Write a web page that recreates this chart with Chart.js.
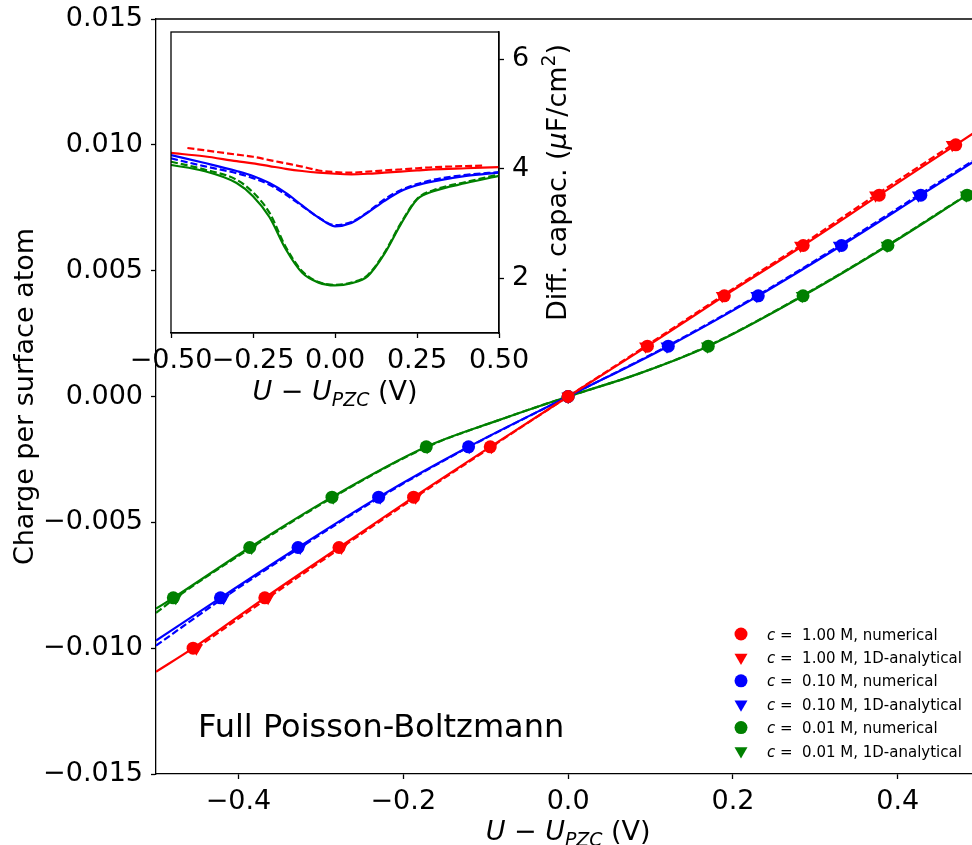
<!DOCTYPE html>
<html>
<head>
<meta charset="utf-8">
<script src="https://cdn.jsdelivr.net/npm/chart.js@4.4.0/dist/chart.umd.min.js"></script>
<style>
  html, body { margin: 0; padding: 0; background: #fff; overflow: hidden; }
  #wrap { position: relative; width: 972px; height: 845px; }
  #mainChart { position: absolute; left: 0; top: 0; }
  #insetChart { position: absolute; left: 100px; top: 20px; }
</style>
</head>
<body>
<div id="wrap">
  <canvas id="mainChart" width="972" height="845"></canvas>
  <canvas id="insetChart" width="480" height="400"></canvas>
</div>
<script>
// ---- main panel: charge per surface atom vs U - U_PZC ----
const mainXTicks = [-0.4, -0.2, 0.0, 0.2, 0.4];
const mainYTicks = [-0.015, -0.010, -0.005, 0.0, 0.005, 0.010, 0.015];

// charges at which the markers sit
const redCharge = [-0.010, -0.008, -0.006, -0.004, -0.002, 0, 0.002, 0.004, 0.006, 0.008, 0.010];
const lowCharge = [-0.008, -0.006, -0.004, -0.002, 0, 0.002, 0.004, 0.006, 0.008];

// potentials of the markers
const redNumX = [-0.455, -0.368, -0.278, -0.1875, -0.0945, 0, 0.0962, 0.1895, 0.2852, 0.3774, 0.4703];
const redAnaX = [-0.451, -0.364, -0.275, -0.185, -0.093, 0, 0.094, 0.187, 0.282, 0.373, 0.466];
const blueNumX = [-0.4218, -0.3277, -0.2299, -0.1208, 0, 0.1215, 0.2307, 0.3317, 0.4279];
const blueAnaX = [-0.418, -0.325, -0.228, -0.120, 0, 0.120, 0.229, 0.329, 0.425];
const greenNumX = [-0.479, -0.3863, -0.2865, -0.1721, 0, 0.170, 0.285, 0.388, 0.484];
const greenAnaX = [-0.476, -0.384, -0.285, -0.171, 0, 0.169, 0.284, 0.387, 0.483];

// curves (solid = numerical, dashed = 1D-analytical)
const redLineX = [-0.5, -0.455, -0.368, -0.278, -0.1875, -0.0945, 0, 0.0962, 0.1895, 0.2852, 0.3774, 0.4703, 0.5];
const redLineY = [-0.01094, -0.010, -0.008, -0.006, -0.004, -0.002, 0, 0.002, 0.004, 0.006, 0.008, 0.010, 0.01064];
const redDashX = [-0.451, -0.364, -0.275, -0.185, -0.093, 0, 0.094, 0.187, 0.282, 0.373, 0.466];
const redDashY = [-0.010, -0.008, -0.006, -0.004, -0.002, 0, 0.002, 0.004, 0.006, 0.008, 0.010];
const blueLineX = [-0.5, -0.4218, -0.3277, -0.2299, -0.1208, 0, 0.1215, 0.2307, 0.3317, 0.4279, 0.5];
const blueLineY = [-0.0097, -0.008, -0.006, -0.004, -0.002, 0, 0.002, 0.004, 0.006, 0.008, 0.0095];
const blueDashX = [-0.5, -0.418, -0.325, -0.228, -0.120, 0, 0.120, 0.229, 0.329, 0.425, 0.5];
const blueDashY = [-0.0099, -0.008, -0.006, -0.004, -0.002, 0, 0.002, 0.004, 0.006, 0.008, 0.00955];
const greenLineX = [-0.5, -0.479, -0.3863, -0.2865, -0.1721, -0.085, 0, 0.085, 0.170, 0.285, 0.388, 0.484, 0.5];
const greenLineY = [-0.00843, -0.008, -0.006, -0.004, -0.002, -0.00095, 0, 0.0009, 0.002, 0.004, 0.006, 0.008, 0.00833];
const greenDashX = [-0.5, -0.476, -0.384, -0.285, -0.171, -0.085, 0, 0.085, 0.169, 0.284, 0.387, 0.483, 0.5];
const greenDashY = [-0.0086, -0.008, -0.006, -0.004, -0.002, -0.00095, 0, 0.0009, 0.002, 0.004, 0.006, 0.008, 0.00835];

// ---- inset: differential capacitance ----
const insetXTicks = [-0.5, -0.25, 0.0, 0.25, 0.5];
const insetYTicks = [2, 4, 6];
const capX = [-0.5, -0.4, -0.3, -0.25, -0.2, -0.15, -0.1, -0.05, 0, 0.05, 0.1, 0.15, 0.2, 0.25, 0.3, 0.4, 0.5];
const redCapNum = [4.29, 4.23, 4.14, 4.10, 4.05, 4.00, 3.96, 3.93, 3.91, 3.90, 3.91, 3.93, 3.95, 3.97, 3.99, 4.01, 4.03];
const blueCapNum = [4.25, 4.11, 3.96, 3.87, 3.74, 3.56, 3.33, 3.11, 2.95, 3.01, 3.20, 3.41, 3.59, 3.70, 3.77, 3.87, 3.93];
const greenCapNum = [4.07, 3.96, 3.74, 3.50, 3.12, 2.53, 2.10, 1.92, 1.87, 1.91, 2.04, 2.44, 2.98, 3.44, 3.59, 3.74, 3.87];
const redCapAnaX = [-0.45, -0.4, -0.3, -0.25, -0.2, -0.15, -0.1, -0.05, 0, 0.05, 0.1, 0.15, 0.2, 0.25, 0.3, 0.4, 0.45];
const redCapAna = [4.38, 4.34, 4.26, 4.22, 4.16, 4.10, 4.04, 3.97, 3.94, 3.93, 3.95, 3.97, 3.99, 4.01, 4.03, 4.05, 4.06];
const blueCapAna = [4.19, 4.05, 3.92, 3.83, 3.71, 3.53, 3.32, 3.11, 2.97, 3.03, 3.21, 3.44, 3.61, 3.72, 3.80, 3.89, 3.94];
const greenCapAna = [4.13, 3.99, 3.80, 3.57, 3.20, 2.57, 2.13, 1.93, 1.88, 1.92, 2.06, 2.46, 3.00, 3.45, 3.61, 3.76, 3.90];

const legendLabels = [
  ["1.00 M, numerical", "red", "circle"],
  ["1.00 M, 1D-analytical", "red", "triangle"],
  ["0.10 M, numerical", "blue", "circle"],
  ["0.10 M, 1D-analytical", "blue", "triangle"],
  ["0.01 M, numerical", "green", "circle"],
  ["0.01 M, 1D-analytical", "green", "triangle"],
];

const RED = "#ff0000", BLUE = "#0000ff", GREEN = "#008000";
const FONT = "'DejaVu Sans', sans-serif";
const TICK_SIZE = 27;
const colorOf = { red: RED, blue: BLUE, green: GREEN };

function fmt(v, d) {
  return v.toFixed(d).replace("-", "\u2212");
}

function pts(xs, ys) {
  return xs.map((x, i) => ({ x: x, y: ys[i] }));
}

function lineSet(xs, ys, color, dashed) {
  return {
    data: pts(xs, ys),
    showLine: true,
    borderColor: color,
    borderWidth: 2.2,
    borderDash: dashed ? [7, 3] : [],
    pointRadius: 0,
    cubicInterpolationMode: "monotone",
    fill: false,
  };
}

function markerSet(xs, ys, color, tri) {
  return {
    data: pts(xs, ys),
    showLine: false,
    pointStyle: tri ? "triangle" : "circle",
    pointRotation: tri ? 180 : 0,
    pointRadius: tri ? 7.5 : 6.5,
    pointBackgroundColor: color,
    pointBorderColor: color,
    pointBorderWidth: 0,
  };
}

// draws runs of text centred on x: [text, style] with style "", "i", "isub" or "sup"
function drawRuns(ctx, runs, x, y, size) {
  const fontOf = (r) => {
    const small = r[1] === "isub" || r[1] === "sup";
    const it = r[1] === "i" || r[1] === "isub";
    return (it ? "italic " : "") + (small ? size * 0.7 : size) + "px " + FONT;
  };
  const widths = runs.map((r) => {
    ctx.font = fontOf(r);
    return ctx.measureText(r[0]).width;
  });
  let cx = x - widths.reduce((a, b) => a + b, 0) / 2;
  runs.forEach((r, i) => {
    ctx.font = fontOf(r);
    let dy = 0;
    if (r[1] === "isub") dy = size * 0.24;
    if (r[1] === "sup") dy = -size * 0.4;
    ctx.fillText(r[0], cx, y + dy);
    cx += widths[i];
  });
}

const uLabel = [["U", "i"], [" \u2212 ", ""], ["U", "i"], ["PZC", "isub"], [" (V)", ""]];
const capLabel = [["Diff. capac. (", ""], ["\u03bc", "i"], ["F/cm", ""], ["2", "sup"], [")", ""]];

function linearAxis(min, max, ticks, digits, size, pos, pad) {
  return {
    type: "linear",
    position: pos,
    min: min,
    max: max,
    afterBuildTicks: (s) => {
      s.ticks = ticks.map((v) => ({ value: v }));
    },
    grid: {
      display: true,
      drawOnChartArea: false,
      drawTicks: true,
      tickLength: 5,
      tickWidth: 1.3,
      tickColor: "#000",
    },
    border: { display: true, color: "#000", width: 1.3 },
    ticks: {
      color: "#000",
      font: { family: FONT, size: TICK_SIZE, lineHeight: 1.0 },
      padding: pad,
      maxRotation: 0,
      autoSkip: false,
      callback: (v) => fmt(v, digits),
    },
    afterFit: (s) => {
      if (pos === "bottom") s.height = size;
      else s.width = size;
      s.paddingTop = 0;
      s.paddingBottom = 0;
      s.paddingLeft = 0;
      s.paddingRight = 0;
    },
  };
}

// main chart
const mainDecor = {
  id: "mainDecor",
  afterDraw(chart) {
    const ctx = chart.ctx;
    const a = chart.chartArea;
    ctx.save();
    ctx.strokeStyle = "#000";
    ctx.lineWidth = 1.3;
    ctx.beginPath();
    ctx.moveTo(a.left, a.top);
    ctx.lineTo(a.right, a.top);
    ctx.stroke();

    ctx.fillStyle = "#000";
    ctx.textBaseline = "alphabetic";
    // x title
    drawRuns(ctx, uLabel, chart.scales.x.getPixelForValue(0), 840, 27);
    // y title
    ctx.save();
    ctx.translate(33, (a.top + a.bottom) / 2);
    ctx.rotate(-Math.PI / 2);
    ctx.textAlign = "center";
    ctx.font = "27px " + FONT;
    ctx.fillText("Charge per surface atom", 0, 0);
    ctx.restore();
    // annotation
    ctx.font = "32px " + FONT;
    ctx.textAlign = "left";
    ctx.fillText("Full Poisson-Boltzmann", 198, 737);
    // legend
    legendLabels.forEach((lab, i) => {
      const y = 634 + i * 23.4;
      const tri = lab[2] === "triangle";
      ctx.fillStyle = colorOf[lab[1]];
      Chart.helpers.drawPoint(ctx, {
        pointStyle: lab[2],
        radius: tri ? 7.5 : 6.5,
        rotation: tri ? 180 : 0,
        borderWidth: 0,
      }, 741, y);
      ctx.fillStyle = "#000";
      ctx.font = "italic 15px " + FONT;
      ctx.fillText("c", 767, y + 5.5);
      const w = ctx.measureText("c").width;
      ctx.font = "15px " + FONT;
      ctx.fillText(" =  " + lab[0], 767 + w, y + 5.5);
    });
    ctx.restore();
  },
};

new Chart(document.getElementById("mainChart"), {
  type: "scatter",
  data: {
    datasets: [
      markerSet(redAnaX, redCharge, RED, true),
      markerSet(redNumX, redCharge, RED, false),
      markerSet(blueAnaX, lowCharge, BLUE, true),
      markerSet(blueNumX, lowCharge, BLUE, false),
      markerSet(greenAnaX, lowCharge, GREEN, true),
      markerSet(greenNumX, lowCharge, GREEN, false),
      lineSet(redDashX, redDashY, RED, true),
      lineSet(redLineX, redLineY, RED, false),
      lineSet(blueDashX, blueDashY, BLUE, true),
      lineSet(blueLineX, blueLineY, BLUE, false),
      lineSet(greenDashX, greenDashY, GREEN, true),
      lineSet(greenLineX, greenLineY, GREEN, false),
    ],
  },
  options: {
    responsive: false,
    animation: false,
    layout: { autoPadding: false, padding: { left: 0, top: 19, right: 0, bottom: 0 } },
    plugins: { legend: { display: false }, tooltip: { enabled: false } },
    scales: {
      x: linearAxis(-0.5, 0.49, mainXTicks, 1, 71, "bottom", 9),
      y: linearAxis(-0.015, 0.015, mainYTicks, 3, 156, "left", 8),
    },
  },
  plugins: [mainDecor],
});

// inset chart
const insetDecor = {
  id: "insetDecor",
  beforeDraw(chart) {
    const ctx = chart.ctx;
    const a = chart.chartArea;
    ctx.save();
    ctx.fillStyle = "#fff";
    ctx.fillRect(a.left, a.top, a.right - a.left, a.bottom - a.top);
    ctx.restore();
  },
  afterDraw(chart) {
    const ctx = chart.ctx;
    const a = chart.chartArea;
    ctx.save();
    ctx.strokeStyle = "#000";
    ctx.lineWidth = 1.3;
    ctx.strokeRect(a.left, a.top, a.right - a.left, a.bottom - a.top);
    ctx.fillStyle = "#000";
    ctx.textBaseline = "alphabetic";
    drawRuns(ctx, uLabel, (a.left + a.right) / 2, 380, 27);
    ctx.translate(466, (a.top + a.bottom) / 2);
    ctx.rotate(-Math.PI / 2);
    drawRuns(ctx, capLabel, 0, 0, 27);
    ctx.restore();
  },
};

new Chart(document.getElementById("insetChart"), {
  type: "scatter",
  data: {
    datasets: [
      lineSet(capX, greenCapNum, GREEN, false),
      lineSet(capX, greenCapAna, GREEN, true),
      lineSet(capX, blueCapNum, BLUE, false),
      lineSet(capX, blueCapAna, BLUE, true),
      lineSet(capX, redCapNum, RED, false),
      lineSet(redCapAnaX, redCapAna, RED, true),
    ],
  },
  options: {
    responsive: false,
    animation: false,
    layout: { autoPadding: false, padding: { left: 71, top: 12, right: 0, bottom: 0 } },
    plugins: { legend: { display: false }, tooltip: { enabled: false } },
    scales: {
      x: linearAxis(-0.5, 0.5, insetXTicks, 2, 87, "bottom", 9),
      y: linearAxis(1.0, 6.5, insetYTicks, 0, 81, "right", 8),
    },
  },
  plugins: [insetDecor],
});
</script>
</body>
</html>
